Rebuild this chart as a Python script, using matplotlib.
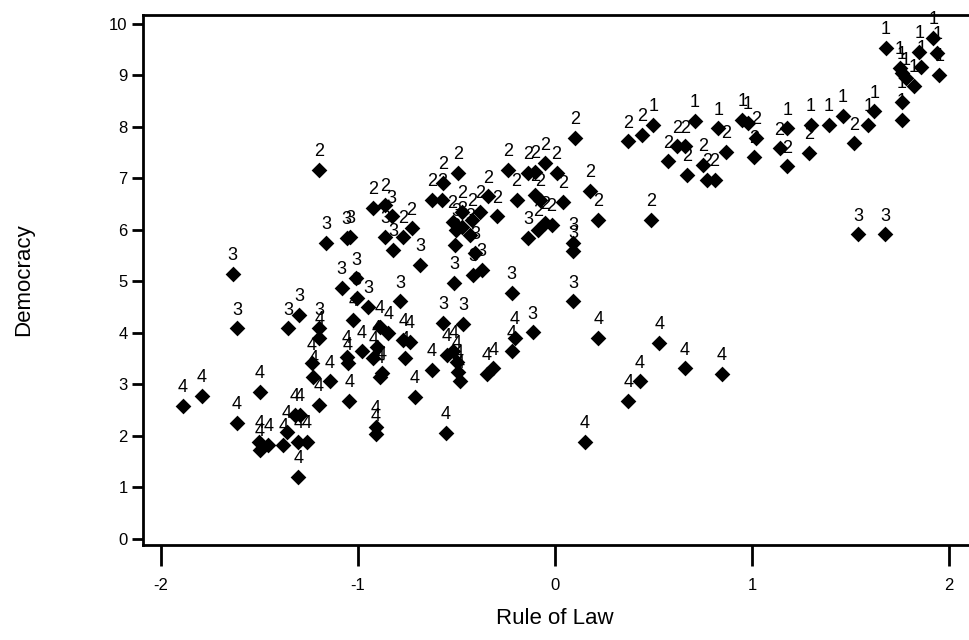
import matplotlib
matplotlib.use("Agg")
import matplotlib.pyplot as plt

# Rule of law (x) and democracy score (y), grouped by the cluster number printed above each point
law_g1 = [0.50, 0.71, 0.83, 0.95, 0.98, 1.18, 1.30, 1.39, 1.46, 1.59, 1.62, 1.68,
          1.76, 1.76, 1.75, 1.76, 1.78, 1.82, 1.85, 1.86, 1.92, 1.94, 1.95]
dem_g1 = [8.04, 8.12, 7.97, 8.14, 8.07, 7.97, 8.04, 8.04, 8.21, 8.04, 8.30, 9.53,
          8.49, 8.14, 9.14, 9.04, 8.94, 8.80, 9.46, 9.17, 9.72, 9.43, 9.01]

law_g2 = [1.02, 1.01, 1.14, 1.18, 1.29, 1.52, 0.66, 0.62, 0.575, 0.67, 0.75, 0.77,
          0.81, 0.87, 0.37, 0.44, 0.10, 0.49, 0.22, 0.18, 0.04, 0.008, -0.05, -0.10,
          -0.135, -0.237, -0.195, -0.10, -0.076, -0.05, -0.017, -0.085, -0.296, -0.339,
          -0.49, -0.57, -0.626, -0.575, -0.922, -0.863, -0.77, -0.728, -1.198,
          -0.52, -0.47, -0.42, -0.38]
dem_g2 = [7.78, 7.42, 7.58, 7.23, 7.49, 7.68, 7.62, 7.62, 7.33, 7.07, 7.26, 6.97,
          6.97, 7.51, 7.72, 7.85, 7.78, 6.19, 6.19, 6.75, 6.55, 7.10, 7.29, 7.13,
          7.10, 7.17, 6.58, 6.68, 6.58, 6.13, 6.10, 6.00, 6.26, 6.65,
          7.10, 6.91, 6.58, 6.58, 6.42, 6.49, 5.87, 6.03, 7.17,
          6.15, 6.35, 6.20, 6.35]

law_g3 = [-0.47, -0.43, -0.50, -0.829, -0.863, -0.82, -0.685, -1.162, -1.057, -1.04,
          -1.636, -1.613, -1.083, -1.01, -1.007, -0.948, -0.787, -1.298, -1.354, -1.196,
          -0.508, -0.406, -0.415, -0.372, -0.511, -0.22, 0.093, -0.567, -0.465, -0.113,
          -0.135, 0.093, 0.093, 1.54, 1.675]
dem_g3 = [6.05, 5.90, 6.00, 6.26, 5.87, 5.61, 5.32, 5.75, 5.84, 5.86,
          5.15, 4.09, 4.87, 5.06, 4.67, 4.51, 4.61, 4.35, 4.09, 4.09,
          5.71, 5.55, 5.13, 5.22, 4.97, 4.77, 4.61, 4.19, 4.17, 4.01,
          5.84, 5.74, 5.58, 5.91, 5.91]

law_g4 = [-1.196, -1.024, -0.888, -0.846, -0.77, -0.905, -0.981, -1.057, -1.05, -1.235,
          -1.227, -1.142, -0.922, -0.88, -0.761, -1.89, -1.793, -1.497, -1.616, -1.497,
          -1.455, -1.50, -1.379, -1.362, -1.32, -1.294, -1.303, -1.26, -1.303, -1.20,
          -1.044, -0.909, -0.909, -0.888, -0.711, -0.736, -0.203, -0.22, 0.22, 0.53,
          -0.55, -0.516, -0.499, -0.491, -0.626, -0.482, -0.347, -0.313, 0.66, 0.431,
          -0.553, 0.152, 0.372, 0.846]
dem_g4 = [3.90, 4.25, 4.12, 4.00, 3.86, 3.73, 3.64, 3.54, 3.41, 3.41,
          3.15, 3.06, 3.51, 3.22, 3.51, 2.59, 2.78, 2.86, 2.25, 1.73,
          1.83, 1.89, 1.83, 2.08, 2.41, 2.41, 1.89, 1.89, 1.21, 2.60,
          2.68, 2.18, 2.03, 3.15, 2.76, 3.83, 3.90, 3.64, 3.91, 3.81,
          3.57, 3.64, 3.44, 3.25, 3.28, 3.06, 3.20, 3.31, 3.31, 3.06,
          2.06, 1.89, 2.68, 3.20]

groups = {
    "1": (law_g1, dem_g1),
    "2": (law_g2, dem_g2),
    "3": (law_g3, dem_g3),
    "4": (law_g4, dem_g4),
}

x_ticks = [-2, -1, 0, 1, 2]
y_ticks = list(range(0, 11))

plt.rcParams['font.family'] = ['Liberation Sans', 'DejaVu Sans']

fig = plt.figure(figsize=(9.69, 6.40), dpi=100)
ax = fig.add_axes([143 / 969, 95 / 640, 832 / 969, 530 / 640])

for label, (xs, ys) in groups.items():
    ax.scatter(xs, ys, marker='D', s=64, color='black', zorder=3, linewidths=0)
    for x, y in zip(xs, ys):
        ax.annotate(label, (x, y), xytext=(0, 7), textcoords='offset points',
                    ha='center', va='bottom', fontsize=13, color='black')

ax.set_xlim(-2.091, 2.132)
ax.set_ylim(-0.117, 10.17)
ax.set_xticks(x_ticks)
ax.set_xticklabels([str(t) for t in x_ticks])
ax.set_yticks(y_ticks)

for side in ['left', 'bottom', 'top']:
    ax.spines[side].set_linewidth(2)
ax.spines['right'].set_visible(False)

ax.tick_params(axis='x', direction='out', length=15, width=2, labelsize=12, pad=9)
ax.tick_params(axis='y', direction='out', length=8, width=2, labelsize=12, pad=3)

ax.set_xlabel('Rule of Law', fontsize=16)
ax.set_ylabel('Democracy', fontsize=16)
ax.xaxis.set_label_coords(0.495, -0.118)
ax.yaxis.set_label_coords(-0.131, 0.5)

plt.savefig('out.png', dpi=100)
